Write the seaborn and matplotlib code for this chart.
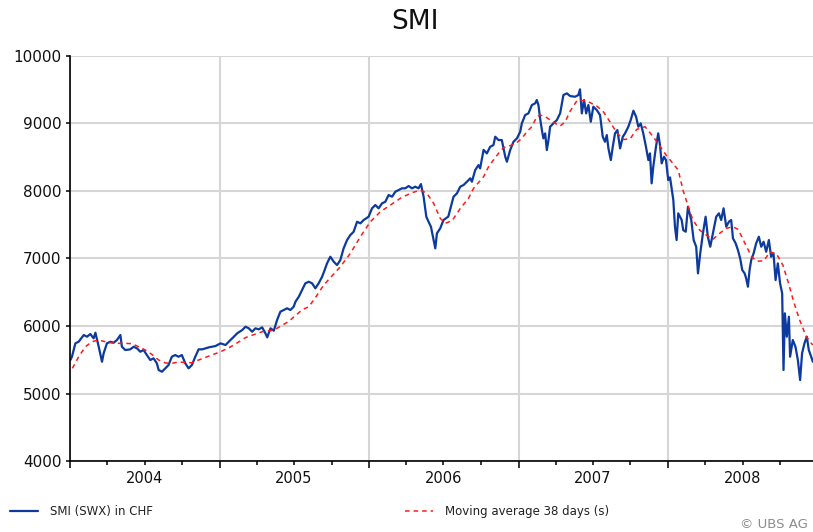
import numpy as np
import pandas as pd
import matplotlib
matplotlib.use('Agg')
import matplotlib.pyplot as plt
import matplotlib.dates as mdates
from matplotlib.ticker import FuncFormatter
import seaborn as sns

### Values (time in decimal years)
smi_years = [
    2004.003, 2004.013, 2004.036, 2004.058, 2004.092, 2004.114, 2004.136, 2004.158, 2004.170, 2004.192,
    2004.214, 2004.225, 2004.247, 2004.270, 2004.292, 2004.314, 2004.337, 2004.347, 2004.370, 2004.403,
    2004.426, 2004.448, 2004.470, 2004.492, 2004.514, 2004.537, 2004.559, 2004.581, 2004.593, 2004.615,
    2004.637, 2004.659, 2004.681, 2004.704, 2004.726, 2004.748, 2004.771, 2004.793, 2004.815, 2004.838,
    2004.860, 2004.884, 2004.929, 2004.973, 2005.007, 2005.040, 2005.073, 2005.096, 2005.118, 2005.152,
    2005.174, 2005.196, 2005.218, 2005.240, 2005.263, 2005.285, 2005.307, 2005.319, 2005.341, 2005.363,
    2005.385, 2005.407, 2005.430, 2005.452, 2005.474, 2005.496, 2005.508, 2005.530, 2005.552, 2005.574,
    2005.597, 2005.619, 2005.641, 2005.663, 2005.686, 2005.703, 2005.719, 2005.741, 2005.764, 2005.786,
    2005.808, 2005.830, 2005.853, 2005.875, 2005.897, 2005.920, 2005.942, 2005.964, 2005.997, 2006.020,
    2006.042, 2006.064, 2006.087, 2006.109, 2006.131, 2006.154, 2006.176, 2006.198, 2006.220, 2006.242,
    2006.265, 2006.287, 2006.309, 2006.331, 2006.347, 2006.365, 2006.383, 2006.398, 2006.414, 2006.432,
    2006.443, 2006.454, 2006.476, 2006.498, 2006.530, 2006.565, 2006.588, 2006.610, 2006.632, 2006.655,
    2006.677, 2006.688, 2006.710, 2006.732, 2006.743, 2006.766, 2006.788, 2006.810, 2006.832, 2006.844,
    2006.866, 2006.888, 2006.911, 2006.922, 2006.944, 2006.966, 2006.989, 2007.011, 2007.022, 2007.044,
    2007.066, 2007.089, 2007.111, 2007.122, 2007.133, 2007.144, 2007.156, 2007.166, 2007.178, 2007.189,
    2007.200, 2007.211, 2007.233, 2007.256, 2007.278, 2007.300, 2007.323, 2007.345, 2007.378, 2007.400,
    2007.411, 2007.423, 2007.438, 2007.452, 2007.467, 2007.483, 2007.500, 2007.523, 2007.545, 2007.563,
    2007.578, 2007.590, 2007.601, 2007.617, 2007.630, 2007.645, 2007.661, 2007.679, 2007.697, 2007.712,
    2007.734, 2007.750, 2007.768, 2007.786, 2007.801, 2007.817, 2007.834, 2007.852, 2007.868, 2007.879,
    2007.890, 2007.901, 2007.919, 2007.934, 2007.946, 2007.957, 2007.973, 2007.986, 2008.001, 2008.013,
    2008.035, 2008.046, 2008.057, 2008.068, 2008.091, 2008.101, 2008.118, 2008.133, 2008.155, 2008.171,
    2008.188, 2008.200, 2008.215, 2008.233, 2008.251, 2008.266, 2008.282, 2008.300, 2008.322, 2008.340,
    2008.355, 2008.371, 2008.389, 2008.407, 2008.422, 2008.434, 2008.452, 2008.467, 2008.482, 2008.496,
    2008.512, 2008.522, 2008.534, 2008.545, 2008.556, 2008.572, 2008.589, 2008.607, 2008.623, 2008.639,
    2008.656, 2008.674, 2008.689, 2008.705, 2008.719, 2008.734, 2008.749, 2008.763, 2008.772, 2008.781,
    2008.794, 2008.808, 2008.816, 2008.834, 2008.852, 2008.868, 2008.883, 2008.896, 2008.912, 2008.928,
    2008.941, 2008.957, 2008.968,
]
smi_values = [
    5500, 5547, 5745, 5769, 5868, 5843, 5883, 5819, 5902, 5695,
    5473, 5597, 5745, 5769, 5754, 5794, 5868, 5695, 5646, 5656,
    5695, 5671, 5621, 5646, 5572, 5498, 5523, 5449, 5350, 5325,
    5375, 5424, 5547, 5572, 5547, 5572, 5449, 5375, 5424, 5547,
    5656, 5656, 5686, 5705, 5745, 5720, 5794, 5843, 5893, 5942,
    5991, 5967, 5917, 5967, 5952, 5982, 5893, 5834, 5967, 5932,
    6090, 6213, 6238, 6263, 6238, 6287, 6361, 6434, 6534, 6633,
    6656, 6633, 6559, 6633, 6730, 6829, 6928, 7026, 6952, 6903,
    6977, 7150, 7273, 7347, 7396, 7544, 7520, 7569, 7618, 7742,
    7791, 7742, 7816, 7840, 7939, 7914, 7988, 8013, 8038, 8038,
    8072, 8038, 8062, 8038, 8101, 7914, 7618, 7544, 7470, 7273,
    7150, 7372, 7446, 7569, 7620, 7914, 7964, 8062, 8087, 8136,
    8186, 8136, 8308, 8382, 8333, 8607, 8555, 8653, 8678, 8801,
    8752, 8752, 8505, 8431, 8604, 8727, 8777, 8875, 8999, 9122,
    9147, 9270, 9295, 9344, 9270, 9073, 8900, 8777, 8851, 8604,
    8752, 8949, 8999, 9048, 9147, 9418, 9443, 9403, 9393, 9418,
    9502, 9147, 9344, 9147, 9270, 9023, 9245, 9196, 9122, 8801,
    8727, 8826, 8629, 8456, 8653, 8851, 8900, 8629, 8801, 8851,
    8949, 9048, 9186, 9097, 8949, 8999, 8851, 8653, 8456, 8555,
    8112, 8357, 8653, 8851, 8678, 8407, 8505, 8456, 8160, 8200,
    7865, 7470, 7273, 7668, 7569, 7421, 7396, 7766, 7569, 7273,
    7174, 6780, 7076, 7372, 7618, 7322, 7174, 7372, 7618, 7668,
    7569, 7742, 7470, 7544, 7569, 7298, 7224, 7125, 7002, 6829,
    6780, 6707, 6583, 6829, 6977, 7076, 7224, 7322, 7174, 7248,
    7100, 7273, 7026, 7076, 6681, 6928, 6633, 6485, 5350, 6189,
    5843, 6139, 5547, 5794, 5695, 5498, 5202, 5597, 5745, 5843,
    5646, 5547, 5473,
]

ma_years = [
    2004.016, 2004.058, 2004.103, 2004.147, 2004.192, 2004.236, 2004.281, 2004.325, 2004.370, 2004.414,
    2004.459, 2004.504, 2004.548, 2004.593, 2004.637, 2004.681, 2004.726, 2004.771, 2004.815, 2004.860,
    2004.918, 2005.007, 2005.062, 2005.096, 2005.174, 2005.285, 2005.363, 2005.396, 2005.463, 2005.552,
    2005.597, 2005.641, 2005.697, 2005.808, 2005.875, 2005.942, 2006.009, 2006.076, 2006.143, 2006.209,
    2006.276, 2006.343, 2006.387, 2006.432, 2006.476, 2006.510, 2006.556, 2006.610, 2006.665, 2006.699,
    2006.766, 2006.799, 2006.832, 2006.866, 2006.899, 2006.955, 2006.989, 2007.022, 2007.055, 2007.089,
    2007.122, 2007.144, 2007.178, 2007.211, 2007.245, 2007.278, 2007.311, 2007.345, 2007.392, 2007.457,
    2007.523, 2007.567, 2007.612, 2007.657, 2007.701, 2007.746, 2007.790, 2007.846, 2007.901, 2007.946,
    2007.990, 2008.035, 2008.068, 2008.101, 2008.135, 2008.166, 2008.211, 2008.255, 2008.300, 2008.345,
    2008.389, 2008.434, 2008.469, 2008.514, 2008.559, 2008.592, 2008.641, 2008.681, 2008.726, 2008.768,
    2008.806, 2008.840, 2008.880, 2008.924, 2008.958, 2008.968,
]
ma_values = [
    5375, 5547, 5695, 5769, 5794, 5769, 5750, 5745, 5745, 5740,
    5695, 5646, 5580, 5498, 5455, 5449, 5470, 5460, 5458, 5498,
    5547, 5621, 5680, 5720, 5830, 5917, 5942, 5982, 6070, 6240,
    6287, 6420, 6608, 6878, 7076, 7322, 7544, 7692, 7791, 7890,
    7964, 8013, 7964, 7816, 7594, 7520, 7560, 7740, 7890, 8038,
    8210, 8357, 8456, 8555, 8640, 8678, 8715, 8777, 8875, 8950,
    9097, 9122, 9100, 9048, 8999, 8960, 9020, 9180, 9340, 9330,
    9255, 9171, 9020, 8860, 8760, 8770, 8910, 8949, 8800, 8660,
    8520, 8400, 8308, 8000, 7770, 7569, 7421, 7347, 7285, 7372,
    7446, 7470, 7430, 7224, 7026, 6960, 6965, 7100, 7065, 6900,
    6630, 6360, 6090, 5843, 5745, 5720,
]

y_ticks = [4000, 5000, 6000, 7000, 8000, 9000, 10000]
title = "SMI"
smi_label = "SMI (SWX) in CHF"
ma_label = "Moving average 38 days (s)"


def to_dates(years):
    base = pd.Timestamp('2004-01-01')
    return base + pd.to_timedelta((np.asarray(years) - 2004) * 365.25, unit='D')


smi = pd.DataFrame({'date': to_dates(smi_years), 'value': smi_values})
ma = pd.DataFrame({'date': to_dates(ma_years), 'value': ma_values})

sns.set_theme(style="white")
plt.rcParams['font.family'] = ['DejaVu Sans']

fig = plt.figure(figsize=(8.13, 5.32), dpi=100)
ax = fig.add_axes([0.0861, 0.1329, 0.9139, 0.7624])

sns.lineplot(data=ma, x='date', y='value', ax=ax, color='#ff1a1a', linewidth=1.1, zorder=3)
sns.lineplot(data=smi, x='date', y='value', ax=ax, color='#0c3a9e', linewidth=1.6, zorder=2)
ma_line, smi_line = ax.lines[0], ax.lines[1]
ma_line.set_dashes((3, 2.6))

### Axes styling
ax.set_ylim(4000, 10000)
ax.set_yticks(y_ticks)
ax.set_xlim(pd.Timestamp('2004-01-01'), pd.Timestamp('2008-12-20'))
ax.set_xlabel('')
ax.set_ylabel('')

ax.xaxis.set_major_locator(mdates.YearLocator())
ax.xaxis.set_major_formatter(FuncFormatter(lambda v, p: ''))
ax.xaxis.set_minor_locator(mdates.MonthLocator(bymonth=[1, 4, 7, 10]))
ax.xaxis.set_minor_formatter(FuncFormatter(
    lambda v, p: str(mdates.num2date(v).year) if mdates.num2date(v).month == 7 else ''))

ax.tick_params(axis='x', which='major', direction='out', length=5, width=1.1, color='black')
ax.tick_params(axis='x', which='minor', direction='out', length=3, width=1.1, color='black',
               labelsize=10.5, pad=4, labelcolor='#111111')
ax.tick_params(axis='y', which='major', direction='out', length=3, width=1.1, color='black',
               labelsize=11, pad=3, labelcolor='#111111')
ax.tick_params(bottom=True, left=True, which='both')

ax.grid(True, axis='y', color='#d6d6d6', linewidth=1.5)
ax.grid(True, axis='x', which='major', color='#d6d6d6', linewidth=1.5)
ax.set_axisbelow(True)

sns.despine(ax=ax)
for side in ['left', 'bottom']:
    ax.spines[side].set_color('black')
    ax.spines[side].set_linewidth(1.2)

if ax.get_legend() is not None:
    ax.get_legend().remove()

fig.text(0.51, 0.958, title, ha='center', va='center', fontsize=19, color='#111111')

### Legend at the bottom
leg_kw = dict(loc='center left', frameon=False, borderpad=0, borderaxespad=0,
              handlelength=2.4, handletextpad=1.0, fontsize=8.5, labelcolor='#222222')
fig.legend(handles=[smi_line], labels=[smi_label], bbox_to_anchor=(10 / 813, 0.0376), **leg_kw)
fig.legend(handles=[ma_line], labels=[ma_label], bbox_to_anchor=(405 / 813, 0.0376), **leg_kw)

fig.text(740 / 813, 1 - 524 / 532, '\u00a9 UBS AG', color='#8c8c8c', fontsize=9.5, va='center')

plt.savefig('out.png', dpi=100)
